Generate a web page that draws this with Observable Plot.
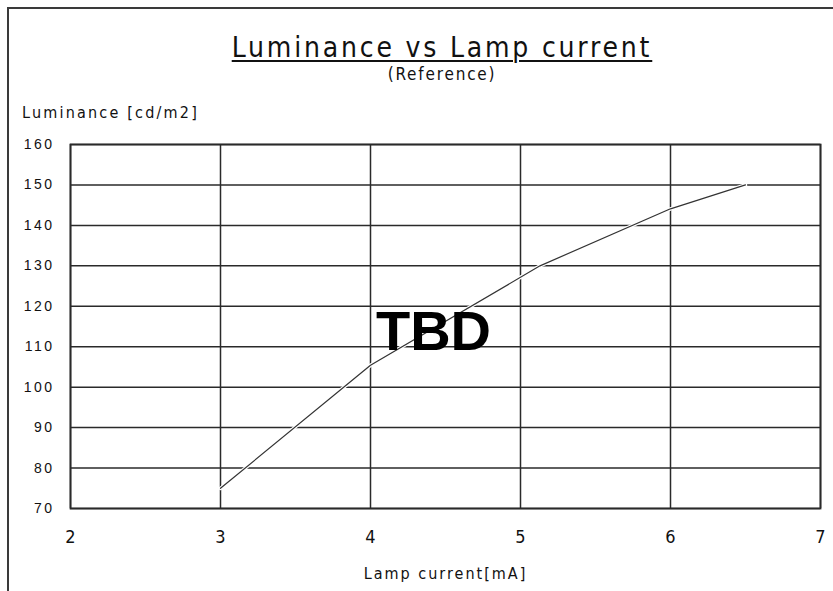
<!DOCTYPE html>
<html>
<head>
<meta charset="utf-8">
<script src="https://cdn.jsdelivr.net/npm/d3@7"></script>
<script src="https://cdn.jsdelivr.net/npm/@observablehq/plot@0.6"></script>
<style>
  html, body { margin: 0; padding: 0; background: #fff; }
  #page { position: relative; width: 833px; height: 591px; overflow: hidden; background: #fff; }
  #border { position: absolute; left: 7px; top: 7px; width: 900px; height: 700px;
            border-left: 2px solid #3a3a3a; border-top: 2px solid #3a3a3a; }
  .t { position: absolute; font-family: "DejaVu Sans Condensed", "Liberation Sans", sans-serif; color: #111; white-space: nowrap; line-height: 1; }
  #title { left: 142px; width: 600px; text-align: center; top: 34px; font-size: 28px; letter-spacing: 2.8px; text-decoration: underline; text-underline-offset: 3px; text-decoration-thickness: 1.5px; }
  #subtitle { left: 142px; width: 600px; text-align: center; top: 66px; font-size: 17px; letter-spacing: 1.8px; }
  #ylabel { left: 22px; top: 105px; font-size: 16px; letter-spacing: 2.2px; }
  #chart { position: absolute; left: 0; top: 0; }
  g[aria-label="y-axis tick label"] text { letter-spacing: 2.5px; }
</style>
</head>
<body>
<div id="page">
  <div id="border"></div>
  <div id="chart"></div>
  <div class="t" id="title">Luminance vs Lamp current</div>
  <div class="t" id="subtitle">(Reference)</div>
  <div class="t" id="ylabel">Luminance [cd/m2]</div>
</div>
<script>
// Data
const current = [3, 4, 5.13, 6, 6.5];          // Lamp current [mA]
const luminance = [75, 105.4, 130, 144.1, 150]; // Luminance [cd/m2]
const xTicks = [2, 3, 4, 5, 6, 7];
const yTicks = [70, 80, 90, 100, 110, 120, 130, 140, 150, 160];
const xLabel = "Lamp current[mA]";
const note = "TBD";

const data = current.map((c, i) => ({current: c, luminance: luminance[i]}));

const chart = Plot.plot({
  width: 833,
  height: 591,
  marginLeft: 70,
  marginRight: 13,
  marginTop: 144,
  marginBottom: 83,
  style: {background: "transparent", fontFamily: "'Liberation Sans', Arial, sans-serif"},
  x: {domain: [2, 7], ticks: xTicks},
  y: {domain: [70, 160], ticks: yTicks},
  marks: [
    Plot.gridX(xTicks, {stroke: "#2a2a2a", strokeOpacity: 1, strokeWidth: 1.5}),
    Plot.gridY(yTicks, {stroke: "#2a2a2a", strokeOpacity: 1, strokeWidth: 1.5}),
    Plot.frame({stroke: "#2a2a2a", strokeWidth: 1.8}),
    Plot.axisX(xTicks, {tickSize: 0, tickPadding: 22, fontSize: 18, tickFormat: d => String(d), fontFamily: "'DejaVu Sans Condensed', sans-serif", fill: "#111", label: null}),
    Plot.axisY(yTicks, {tickSize: 0, tickPadding: 16, fontSize: 14, tickFormat: d => String(d), fill: "#111", label: null}),
    Plot.text([xLabel], {frameAnchor: "bottom", dy: 70, fontSize: 16, fill: "#111", fontFamily: "'DejaVu Sans Condensed', sans-serif"}),
    Plot.line(data, {x: "current", y: "luminance", stroke: "#fff", strokeWidth: 3.5}),
    Plot.line(data, {x: "current", y: "luminance", stroke: "#333", strokeWidth: 1.2}),
    Plot.text([note], {frameAnchor: "middle", dx: -12, dy: 6, fontSize: 56, fontWeight: "bold", fill: "#000", fontFamily: "'Liberation Sans', Arial, sans-serif"})
  ]
});
chart.querySelectorAll("text").forEach(t => {
  if (t.textContent === xLabel) t.style.letterSpacing = "2px";
});
document.getElementById("chart").appendChild(chart);
</script>
</body>
</html>
